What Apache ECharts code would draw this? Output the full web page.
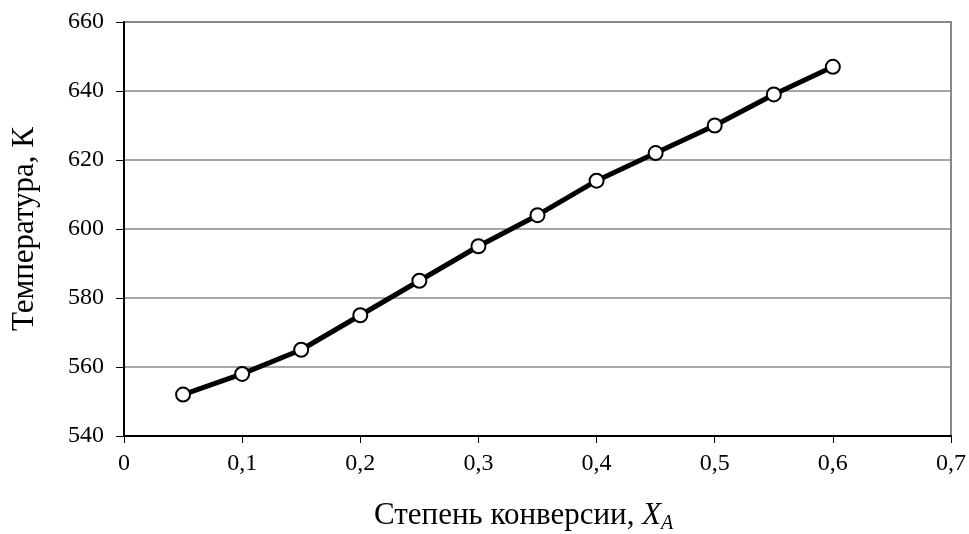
<!DOCTYPE html>
<html>
<head>
<meta charset="utf-8">
<script src="https://cdn.jsdelivr.net/npm/echarts@6/dist/echarts.min.js"></script>
<style>
    html, body { margin: 0; padding: 0; background: #fff; }
    #chart { width: 969px; height: 534px; }
</style>
</head>
<body>
<div id="chart"></div>
<script>
'use strict';
// conversion degree X_A and temperature, K
var conversion = [0.05, 0.1, 0.15, 0.2, 0.25, 0.3, 0.35, 0.4, 0.45, 0.5, 0.55, 0.6];
var temperature = [552, 558, 565, 575, 585, 595, 604, 614, 622, 630, 639, 647];

var chart = echarts.init(document.getElementById('chart'));
var font = '"Liberation Serif", "Times New Roman", serif';

var points = [];
for (var i = 0; i < conversion.length; i++) {
    points.push([conversion[i], temperature[i]]);
}

var option = {
    animation: false,
    backgroundColor: '#fff',
    textStyle: { fontFamily: font },
    title: {
        text: '{n|Степень конверсии, }{x|X}{s|A}',
        left: 374,
        top: 498,
        padding: 0,
        textStyle: {
            fontWeight: 'normal',
            rich: {
                n: { fontFamily: font, fontSize: 31, color: '#000' },
                x: { fontFamily: font, fontSize: 31, fontStyle: 'italic', color: '#000' },
                s: { fontFamily: font, fontSize: 20, fontStyle: 'italic', color: '#000', verticalAlign: 'bottom', padding: [16, 0, 0, 0] }
            }
        }
    },
    grid: {
        left: 124,
        right: 15,
        top: 22,
        bottom: 98,
        show: true,
        borderColor: '#888',
        borderWidth: 2
    },
    xAxis: {
        type: 'value',
        min: 0,
        max: 0.7,
        interval: 0.1,
        axisLine: { lineStyle: { color: '#000', width: 2 } },
        axisTick: { show: true, inside: false, length: 7, lineStyle: { color: '#000', width: 1 } },
        splitLine: { show: false },
        axisLabel: {
            color: '#000',
            fontSize: 24,
            fontFamily: font,
            margin: 16,
            formatter: function (v) {
                return String(Math.round(v * 10) / 10).replace('.', ',');
            }
        }
    },
    yAxis: {
        type: 'value',
        min: 540,
        max: 660,
        interval: 20,
        name: 'Температура, К',
        nameLocation: 'middle',
        nameGap: 84,
        nameRotate: 90,
        nameTextStyle: { color: '#000', fontSize: 31, fontFamily: font },
        axisLine: { show: true, lineStyle: { color: '#000', width: 2 } },
        axisTick: { show: true, inside: false, length: 8, lineStyle: { color: '#000', width: 1 } },
        splitLine: { show: true, lineStyle: { color: '#888', width: 1.5 } },
        axisLabel: { color: '#000', fontSize: 24, fontFamily: font, margin: 20 }
    },
    series: [
        {
            name: 'T',
            type: 'line',
            data: points,
            symbol: 'circle',
            symbolSize: 14,
            lineStyle: { color: '#000', width: 5 },
            itemStyle: { color: '#fff', borderColor: '#000', borderWidth: 2 }
        }
    ]
};
chart.setOption(option);
</script>
</body>
</html>
